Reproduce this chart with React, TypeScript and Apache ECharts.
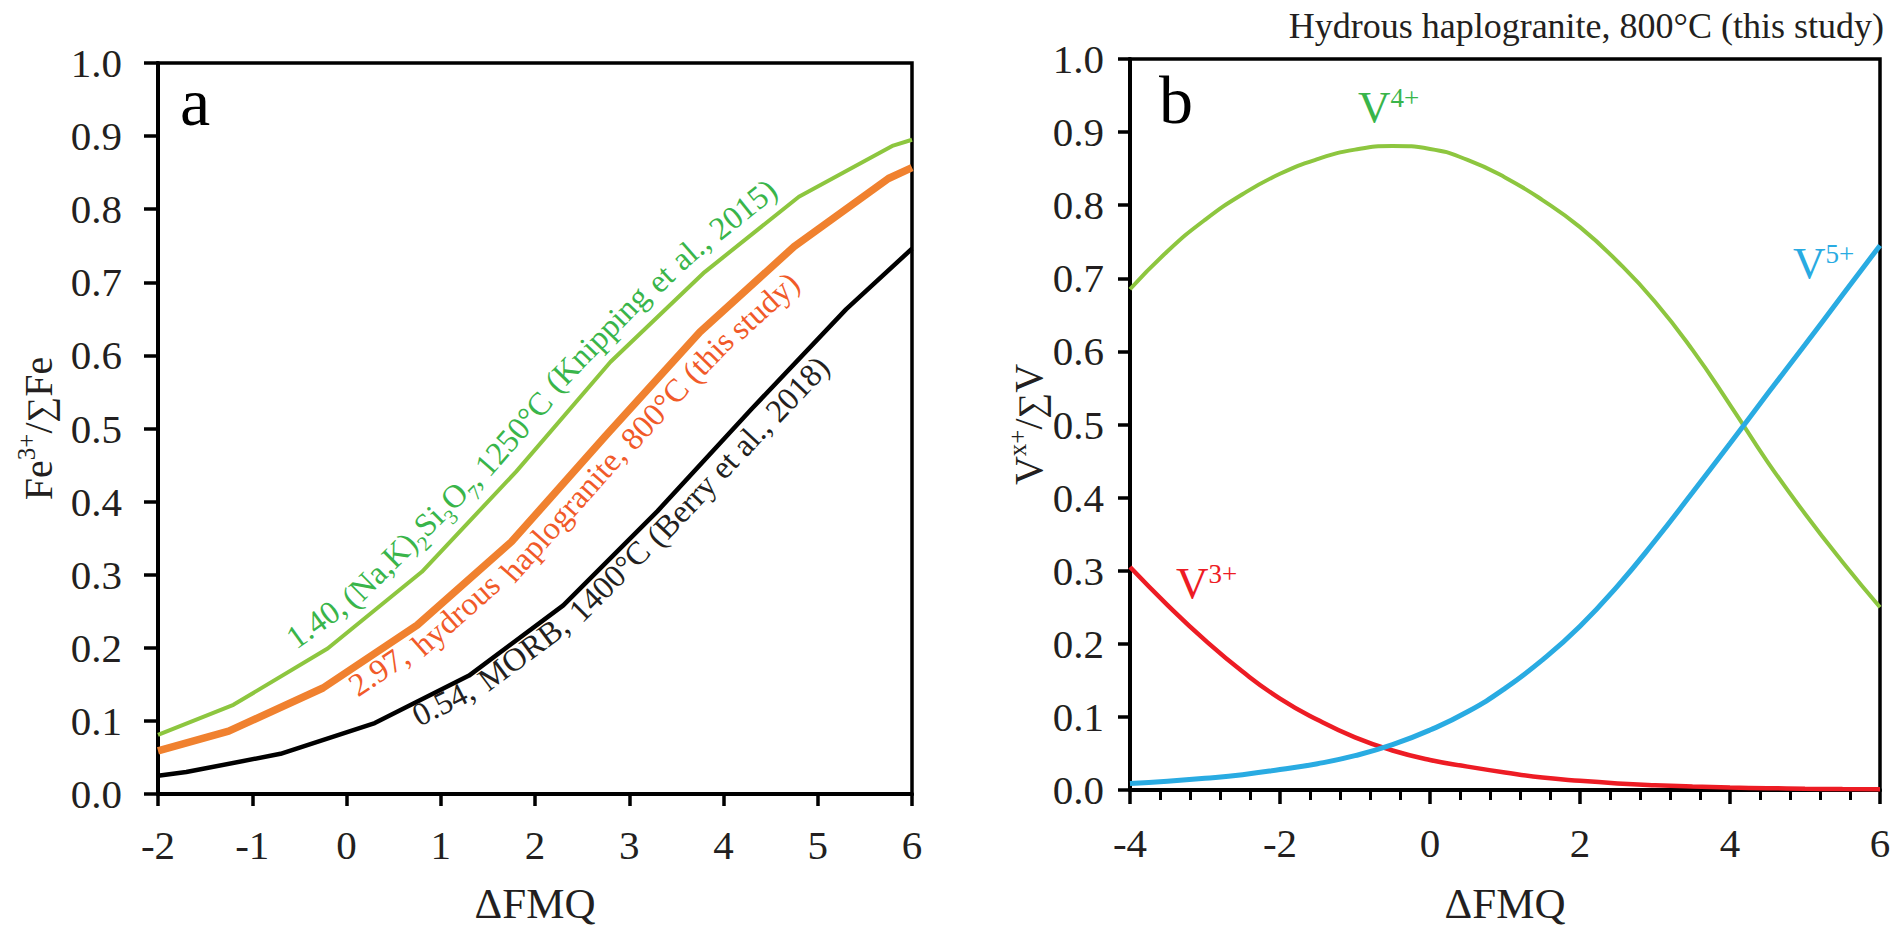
import React, { useEffect, useRef } from "react";
import * as echarts from "echarts";

// ---------- Panel a: Fe3+/∑Fe vs ΔFMQ ----------
const feGreenX = [-2, -1.2, -0.2, 0.8, 1.8, 2.8, 3.8, 4.8, 5.8, 6];
const feGreenY = [0.081, 0.122, 0.199, 0.304, 0.441, 0.591, 0.714, 0.817, 0.887, 0.895];
const feOrangeX = [-2, -1.25, -0.25, 0.75, 1.75, 2.75, 3.75, 4.75, 5.75, 6];
const feOrangeY = [0.059, 0.086, 0.145, 0.231, 0.345, 0.49, 0.632, 0.749, 0.842, 0.857];
const feBlackX = [-2, -1.7, -0.7, 0.3, 1.3, 2.3, 3.3, 4.3, 5.3, 6];
const feBlackY = [0.025, 0.03, 0.055, 0.097, 0.162, 0.258, 0.387, 0.527, 0.663, 0.746];

// Curve labels (words; "_" marks a subscript piece)
const greenLabel = ["1.40,", "(Na,K)_2Si_3O_7,", "1250°C", "(Knipping", "et", "al.,", "2015)"];
const orangeLabel = ["2.97,", "hydrous", "haplogranite,", "800°C", "(this", "study)"];
const blackLabel = ["0.54,", "MORB,", "1400°C", "(Berry", "et", "al.,", "2018)"];

// ---------- Panel b: Vx+/∑V vs ΔFMQ ----------
const vX = [-4, -3.5, -3, -2.5, -2, -1.5, -1, -0.5, 0, 0.5, 1, 1.5, 2, 2.5, 3, 3.5, 4, 4.5, 5, 5.5, 6];
const v3 = [0.305, 0.253, 0.205, 0.162, 0.125, 0.096, 0.072, 0.054, 0.041, 0.032, 0.024, 0.017, 0.0125, 0.009, 0.0065, 0.0047, 0.0034, 0.0025, 0.0018, 0.0013, 0.001];
const v4 = [0.685, 0.737, 0.78, 0.815, 0.843, 0.863, 0.876, 0.881, 0.877, 0.862, 0.838, 0.807, 0.77, 0.723, 0.668, 0.602, 0.527, 0.449, 0.378, 0.312, 0.25];
const v5 = [0.009, 0.012, 0.016, 0.021, 0.028, 0.036, 0.047, 0.062, 0.082, 0.107, 0.139, 0.178, 0.224, 0.279, 0.341, 0.407, 0.474, 0.542, 0.609, 0.677, 0.745];

const panelTitle = "Hydrous haplogranite, 800°C (this study)";
const xTitle = "ΔFMQ";

const FONT = '"Liberation Serif", "Times New Roman", Times, serif';
const INK = "#231F20";
const LFS = 32.5;
const SUBFS = 21;

const zip = (xs: number[], ys: number[]) => xs.map((x, i) => [x, ys[i]]);

function yAxisCfg(gridIndex: number, name: string, nameGap: number, margin: number, tickLen: number) {
  return {
    type: "value",
    gridIndex,
    min: 0,
    max: 1,
    interval: 0.1,
    name,
    nameLocation: "middle",
    nameGap,
    nameTextStyle: {
      fontFamily: FONT,
      fontSize: 40,
      color: INK,
      rich: {
        n: { fontFamily: FONT, fontSize: 40, lineHeight: 44, verticalAlign: "bottom", color: INK },
        sg: { fontFamily: FONT, fontSize: 36, lineHeight: 44, verticalAlign: "bottom", color: INK },
        sup: { fontFamily: FONT, fontSize: 25, lineHeight: 25, verticalAlign: "top", color: INK },
      },
    },
    axisLine: { show: true, onZero: false, lineStyle: { color: "#000", width: 4 } },
    axisTick: { show: true, inside: false, length: tickLen, lineStyle: { color: "#000", width: 3.5 } },
    axisLabel: {
      margin,
      fontFamily: FONT,
      fontSize: 41,
      color: INK,
      formatter: (v: number) => v.toFixed(1),
    },
    splitLine: { show: false },
  };
}

// ---- helpers to lay a label along a (pixel) polyline ----
type Pt = number[];
function buildPath(pts: Pt[]) {
  const cum = [0];
  for (let i = 1; i < pts.length; i++) {
    cum.push(cum[i - 1] + Math.hypot(pts[i][0] - pts[i - 1][0], pts[i][1] - pts[i - 1][1]));
  }
  return { pts, cum, total: cum[cum.length - 1] };
}
function pointAt(p: any, s: number): Pt {
  const { pts, cum } = p;
  let i = 0;
  if (s <= 0) i = 0;
  else if (s >= p.total) i = pts.length - 2;
  else {
    while (i < pts.length - 2 && cum[i + 1] < s) i++;
  }
  const len = cum[i + 1] - cum[i] || 1;
  const t = (s - cum[i]) / len;
  return [pts[i][0] + (pts[i + 1][0] - pts[i][0]) * t, pts[i][1] + (pts[i + 1][1] - pts[i][1]) * t];
}
function tangentAt(p: any, s: number, L: number): Pt {
  const a = pointAt(p, s - L);
  const b = pointAt(p, s + L);
  const dx = b[0] - a[0];
  const dy = b[1] - a[1];
  const n = Math.hypot(dx, dy) || 1;
  return [dx / n, dy / n];
}
function arcAtX(p: any, X: number): number {
  const { pts, cum } = p;
  for (let i = 0; i < pts.length - 1; i++) {
    if (X >= pts[i][0] && X <= pts[i + 1][0]) {
      const t = (X - pts[i][0]) / (pts[i + 1][0] - pts[i][0] || 1);
      return cum[i] + t * (cum[i + 1] - cum[i]);
    }
  }
  return 0;
}

let measureCtx: CanvasRenderingContext2D | null = null;
function measure(t: string, fs: number) {
  if (!measureCtx) measureCtx = document.createElement("canvas").getContext("2d");
  if (!measureCtx) return t.length * fs * 0.45;
  measureCtx.font = `${fs}px "Liberation Serif", "Times New Roman", serif`;
  return measureCtx.measureText(t).width;
}

// split "(Na,K)_2Si_3O_7," into pieces
function pieces(word: string) {
  const out: { t: string; sub: boolean }[] = [];
  let buf = "";
  for (let i = 0; i < word.length; i++) {
    if (word[i] === "_" && i + 1 < word.length) {
      if (buf) out.push({ t: buf, sub: false });
      buf = "";
      out.push({ t: word[i + 1], sub: true });
      i++;
    } else buf += word[i];
  }
  if (buf) out.push({ t: buf, sub: false });
  return out;
}

function labelAlongLine(
  words: string[],
  pixelPts: Pt[],
  startX: number,
  d0: number,
  d1: number,
  color: string
) {
  const path = buildPath(pixelPts);
  const space = measure(" ", LFS);
  const info = words.map((w) => {
    const ps = pieces(w);
    const width = ps.reduce((acc, p) => acc + measure(p.t, p.sub ? SUBFS : LFS), 0);
    return { ps, width };
  });
  const totalLen = info.reduce((a, w) => a + w.width, 0) + space * (words.length - 1);
  let s = arcAtX(path, startX);
  const s0 = s;
  const els: any[] = [];
  info.forEach((w) => {
    const sm = s + w.width / 2;
    const frac = (sm - s0) / totalLen;
    const d = d0 + (d1 - d0) * frac; // + above, - below
    const [tx, ty] = tangentAt(path, sm, 34);
    const nUp = [ty, -tx];
    const c = pointAt(path, sm);
    const cx = c[0] + nUp[0] * d;
    const cy = c[1] + nUp[1] * d;
    const bx = cx - (w.width / 2) * tx;
    const by = cy - (w.width / 2) * ty;
    const off = 0.34 * LFS;
    const hasSub = w.ps.some((p) => p.sub);
    const text = hasSub
      ? w.ps.map((p) => `{${p.sub ? "s" : "n"}|${p.t}}`).join("")
      : w.ps.map((p) => p.t).join("");
    els.push({
      type: "text",
      x: bx + nUp[0] * off,
      y: by + nUp[1] * off,
      rotation: Math.atan2(-ty, tx),
      z: 100,
      style: {
        text,
        fill: color,
        fontFamily: FONT,
        fontSize: LFS,
        align: "left",
        verticalAlign: "middle",
        rich: hasSub
          ? {
              n: { fill: color, fontFamily: FONT, fontSize: LFS, lineHeight: LFS + 7, verticalAlign: "top" },
              s: { fill: color, fontFamily: FONT, fontSize: SUBFS, lineHeight: SUBFS, verticalAlign: "bottom" },
            }
          : undefined,
      },
    });
    s += w.width + space;
  });
  return els;
}

export default function App() {
  const ref = useRef<HTMLDivElement>(null);

  useEffect(() => {
    if (!ref.current) return;
    const chart = echarts.init(ref.current, null, { renderer: "svg" });

    const vLabel = (sup: string, x: number, y: number, color: string) => ({
      type: "text",
      x,
      y,
      z: 100,
      style: {
        text: `{v|V}{s|${sup}}`,
        fill: color,
        align: "left",
        verticalAlign: "top",
        rich: {
          v: { fill: color, fontFamily: FONT, fontSize: 45, lineHeight: 45, verticalAlign: "bottom" },
          s: { fill: color, fontFamily: FONT, fontSize: 27, lineHeight: 27, verticalAlign: "top" },
        },
      },
    });

    const option: any = {
      animation: false,
      backgroundColor: "#ffffff",
      title: {
        text: panelTitle,
        right: 6,
        top: 3,
        textStyle: { fontFamily: FONT, fontSize: 36, fontWeight: "normal", color: INK },
      },
      grid: [
        { left: 158, top: 63, width: 754, height: 732, show: true, borderColor: "#000", borderWidth: 3.5, backgroundColor: "transparent" },
        { left: 1130, top: 59, width: 750, height: 732, show: true, borderColor: "#000", borderWidth: 3.5, backgroundColor: "transparent" },
      ],
      xAxis: [
        {
          type: "value",
          gridIndex: 0,
          min: -2,
          max: 6,
          interval: 1,
          name: xTitle,
          nameLocation: "middle",
          nameGap: 88,
          nameTextStyle: { fontFamily: FONT, fontSize: 43, color: INK },
          axisLine: { show: true, onZero: false, lineStyle: { color: "#000", width: 4 } },
          axisTick: { show: true, inside: false, length: 12, lineStyle: { color: "#000", width: 3.5 } },
          axisLabel: { margin: 30, fontFamily: FONT, fontSize: 41, color: INK },
          splitLine: { show: false },
        },
        {
          type: "value",
          gridIndex: 1,
          min: -4,
          max: 6,
          interval: 2,
          name: xTitle,
          nameLocation: "middle",
          nameGap: 92,
          nameTextStyle: { fontFamily: FONT, fontSize: 43, color: INK },
          axisLine: { show: true, onZero: false, lineStyle: { color: "#000", width: 4 } },
          axisTick: { show: true, inside: false, length: 14, lineStyle: { color: "#000", width: 3.5 } },
          minorTick: { show: true, splitNumber: 5, length: 10, lineStyle: { color: "#000", width: 3 } },
          axisLabel: { margin: 32, fontFamily: FONT, fontSize: 41, color: INK },
          splitLine: { show: false },
          minorSplitLine: { show: false },
        },
      ],
      yAxis: [
        yAxisCfg(0, "{n|Fe}{sup|3+}{n|/}{sg|∑}{n|Fe}", 100, 36, 14),
        yAxisCfg(1, "{n|V}{sup|x+}{n|/}{sg|∑}{n|V}", 77, 26, 12),
      ],
      series: [
        {
          name: "1.40, (Na,K)2Si3O7, 1250°C (Knipping et al., 2015)",
          type: "line",
          xAxisIndex: 0,
          yAxisIndex: 0,
          showSymbol: false,
          symbol: "none",
          lineStyle: { color: "#8DC63F", width: 4 },
          data: zip(feGreenX, feGreenY),
        },
        {
          name: "0.54, MORB, 1400°C (Berry et al., 2018)",
          type: "line",
          xAxisIndex: 0,
          yAxisIndex: 0,
          showSymbol: false,
          symbol: "none",
          lineStyle: { color: "#000000", width: 4.5 },
          data: zip(feBlackX, feBlackY),
        },
        {
          name: "2.97, hydrous haplogranite, 800°C (this study)",
          type: "line",
          xAxisIndex: 0,
          yAxisIndex: 0,
          showSymbol: false,
          symbol: "none",
          lineStyle: { color: "#F0812F", width: 7.5 },
          data: zip(feOrangeX, feOrangeY),
        },
        {
          name: "V4+",
          type: "line",
          xAxisIndex: 1,
          yAxisIndex: 1,
          smooth: 0.5,
          showSymbol: false,
          symbol: "none",
          lineStyle: { color: "#8DC63F", width: 4 },
          data: zip(vX, v4),
        },
        {
          name: "V3+",
          type: "line",
          xAxisIndex: 1,
          yAxisIndex: 1,
          smooth: 0.5,
          showSymbol: false,
          symbol: "none",
          lineStyle: { color: "#ED1C24", width: 4.5 },
          data: zip(vX, v3),
        },
        {
          name: "V5+",
          type: "line",
          xAxisIndex: 1,
          yAxisIndex: 1,
          smooth: 0.5,
          showSymbol: false,
          symbol: "none",
          lineStyle: { color: "#29ABE2", width: 5 },
          data: zip(vX, v5),
        },
      ],
    };

    chart.setOption(option);

    const toPx = (xs: number[], ys: number[]) =>
      xs.map((x, i) => chart.convertToPixel({ xAxisIndex: 0, yAxisIndex: 0 } as any, [x, ys[i]]) as number[]);
    const gPx = toPx(feGreenX, feGreenY);
    const oPx = toPx(feOrangeX, feOrangeY);
    const bPx = toPx(feBlackX, feBlackY);
    const xPix = (v: number) => chart.convertToPixel({ xAxisIndex: 0 } as any, v) as number;

    const graphic: any[] = [
      {
        type: "text",
        x: 180,
        y: 102,
        z: 100,
        style: { text: "a", fill: "#000", fontFamily: FONT, fontSize: 68, align: "left", verticalAlign: "middle" },
      },
      {
        type: "text",
        x: 1159,
        y: 100,
        z: 100,
        style: { text: "b", fill: "#000", fontFamily: FONT, fontSize: 68, align: "left", verticalAlign: "middle" },
      },
      ...labelAlongLine(greenLabel, gPx, xPix(-0.44), 17, 14, "#39B54A"),
      ...labelAlongLine(orangeLabel, oPx, xPix(-0.04), -27, -35, "#F15A29"),
      ...labelAlongLine(blackLabel, bPx, xPix(0.66), -23, -31, INK),
      vLabel("4+", 1358, 84, "#39B54A"),
      vLabel("5+", 1793, 240, "#29ABE2"),
      vLabel("3+", 1176, 560, "#ED1C24"),
    ];
    chart.setOption({ graphic });

    return () => {
      chart.dispose();
    };
  }, []);

  return (
    <div
      ref={ref}
      style={{ position: "absolute", left: 0, top: 0, width: 1895, height: 930, background: "#fff" }}
    />
  );
}
